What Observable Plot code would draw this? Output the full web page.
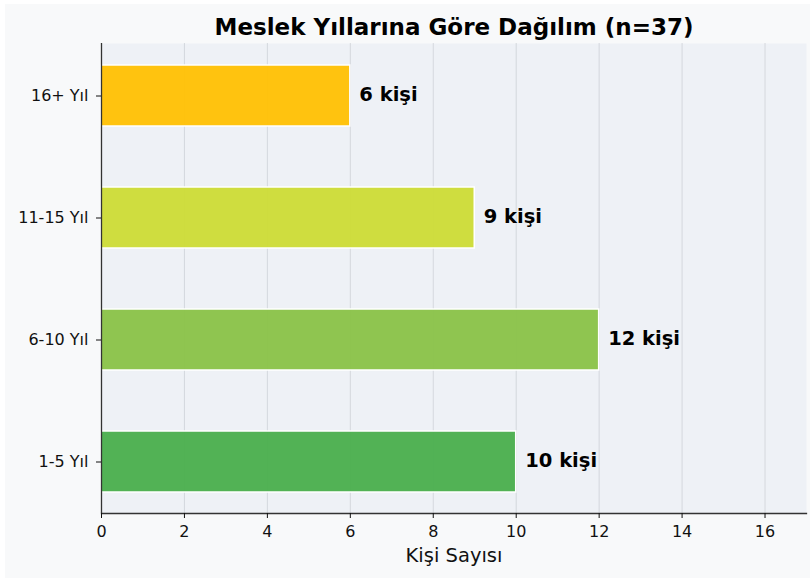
<!DOCTYPE html>
<html>
<head>
<meta charset="utf-8">
<script src="https://cdn.jsdelivr.net/npm/d3@7"></script>
<script src="https://cdn.jsdelivr.net/npm/@observablehq/plot@0.6"></script>
<style>
  html, body { margin: 0; padding: 0; background: #ffffff; }
  #chart svg { display: block; }
</style>
</head>
<body>
<div id="chart"></div>
<script>
const categories = ["1-5 Yıl", "6-10 Yıl", "11-15 Yıl", "16+ Yıl"];
const counts = [10, 12, 9, 6];
const colors = ["#4caf50", "#8bc34a", "#cddc39", "#ffc107"];
const xTicks = [0, 2, 4, 6, 8, 10, 12, 14, 16];
const valueLabels = counts.map(c => `${c} kişi`);
const titleText = "Meslek Yıllarına Göre Dağılım (n=37)";
const xLabelText = "Kişi Sayısı";

const data = categories.map((c, i) => ({cat: c, n: counts[i], label: valueLabels[i]}));

const chart = Plot.plot({
  width: 810,
  height: 580,
  marginLeft: 101,
  marginRight: 4,
  marginTop: 43,
  marginBottom: 67,
  style: {
    fontFamily: "DejaVu Sans",
    color: "#111111",
    background: "linear-gradient(#f8f9fa,#f8f9fa) 5px 4px / 805px 574px no-repeat, #ffffff",
    overflow: "visible"
  },
  x: {domain: [0, 17]},
  y: {domain: categories.slice().reverse(), paddingInner: 0.5, paddingOuter: 0.176},
  color: {domain: categories, range: colors},
  marks: [
    Plot.frame({fill: "#eef1f6", stroke: null}),
    Plot.gridX(xTicks, {stroke: "#c9cdd3", strokeOpacity: 0.7, strokeWidth: 1}),
    Plot.barX(data, {x: "n", y: "cat", fill: "cat", fillOpacity: 0.97, stroke: "#ffffff", strokeWidth: 1.5}),
    Plot.text(data, {x: "n", y: "cat", text: "label", dx: 9, dy: -1, textAnchor: "start", fontWeight: "bold", fontSize: 19.5, fill: "#000000"}),
    Plot.ruleX([0], {stroke: "#333333", strokeWidth: 1.3}),
    Plot.frame({anchor: "bottom", stroke: "#333333", strokeWidth: 1.3}),
    Plot.axisX({ticks: xTicks, tickSize: 5, tickPadding: 7, fontSize: 16, label: null, tickFormat: d => String(d)}),
    Plot.axisY({tickSize: 5, tickPadding: 8, fontSize: 16, label: null}),
    Plot.text([titleText], {frameAnchor: "top", dy: -16, fontSize: 23, fontWeight: "bold", fill: "#000000", lineAnchor: "middle"}),
    Plot.text([xLabelText], {frameAnchor: "bottom", dy: 42, fontSize: 19.5, fill: "#111111", lineAnchor: "middle"})
  ]
});
document.getElementById("chart").appendChild(chart);
</script>
</body>
</html>
